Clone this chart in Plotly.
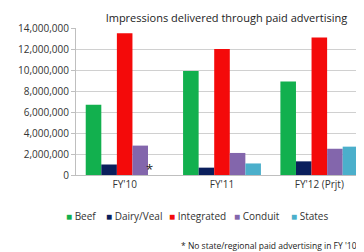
import plotly.graph_objects as go

categories = ["FY'10", "FY'11", "FY'12 (Prjt)"]
series_names = ["Beef", "Dairy/Veal", "Integrated", "Conduit", "States"]
beef = [6700000, 9900000, 8900000]
dairy_veal = [1000000, 700000, 1300000]
integrated = [13500000, 12000000, 13100000]
conduit = [2800000, 2100000, 2500000]
states = [0, 1100000, 2700000]
y_ticks = [0, 2000000, 4000000, 6000000, 8000000, 10000000, 12000000, 14000000]

colors = ["#12B04E", "#0A1F5C", "#F40A0A", "#8366AC", "#4BAFCB"]
values = [beef, dairy_veal, integrated, conduit, states]

fig = go.Figure()
for name, vals, col in zip(series_names, values, colors):
    fig.add_trace(go.Bar(name=name, x=categories, y=vals, marker_color=col,
                         marker_line_width=0, showlegend=False))

font_family = "Open Sans, Liberation Sans, sans-serif"
fig.update_layout(
    width=364, height=252,
    margin=dict(l=68, r=4, t=20, b=85),
    paper_bgcolor="white", plot_bgcolor="white",
    barmode="group", bargap=0.2, bargroupgap=0,
    font=dict(family=font_family, size=10, color="#333333"),
    title=dict(text="Impressions delivered through paid advertising",
               x=0.6, xanchor="center", y=0.96, yanchor="middle",
               font=dict(size=11, color="#222222")),
    showlegend=False,
    yaxis=dict(range=[0, 14000000], tickvals=y_ticks, tickformat=",d",
               gridcolor="#D0D0D0", gridwidth=1, showline=True, linecolor="#BFBFBF",
               ticks="outside", tickcolor="#BFBFBF", ticklen=4,
               tickfont=dict(size=10, color="#333333"), zeroline=False),
    xaxis=dict(showline=True, linecolor="#BFBFBF", tickfont=dict(size=10, color="#333333"),
               ticks=""),
)

# custom compact legend (real text)
legend_x = [-0.04, 0.095, 0.31, 0.535, 0.73]
for name, col, lx in zip(series_names, colors, legend_x):
    fig.add_annotation(x=lx, y=-0.28, xref="paper", yref="paper", xanchor="left",
                       yanchor="middle", showarrow=False,
                       text=f"<span style='color:{col}'>■</span> {name}",
                       font=dict(size=10, color="#333333"))

fig.add_annotation(x="FY'10", y=0, xref="x", yref="y", text="*", showarrow=False,
                   xshift=25, yshift=6, font=dict(size=13, color="#222222"))
fig.add_annotation(x=0.97, y=-0.48, xref="paper", yref="paper", yanchor="middle",
                   xanchor="right",
                   text="* No state/regional paid advertising in FY '10",
                   showarrow=False, font=dict(size=8.5, color="#222222"))

fig.write_html("out.html")
